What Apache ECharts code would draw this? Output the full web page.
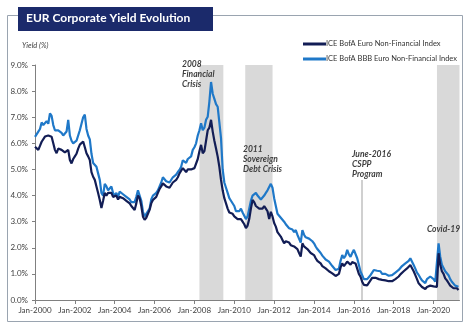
<!DOCTYPE html>
<html><head><meta charset="utf-8">
<script src="https://cdn.jsdelivr.net/npm/echarts@6/dist/echarts.min.js"></script>
<style>html,body{margin:0;padding:0;background:#fff}#c{width:474px;height:326px}</style>
</head><body><div id="c"></div>
<script>
const chartTitle = 'EUR Corporate Yield Evolution';
const yAxisTitle = 'Yield (%)';
const seriesNames = ['ICE BofA Euro Non-Financial Index', 'ICE BofA BBB Euro Non-Financial Index'];
const startYear = 2000; // monthly observations from Jan-2000
const indexYield = [
  5.87,5.80,5.75,5.90,6.06,6.10,6.26,6.20,6.30,6.33,6.25,6.00,
  5.75,5.62,5.80,5.85,5.75,5.70,5.65,5.70,5.75,5.36,5.23,5.40,
  5.50,5.60,5.80,5.95,6.00,6.07,5.85,5.62,5.50,5.36,4.90,4.72,
  4.60,4.35,4.10,3.83,3.52,3.80,4.10,4.00,4.10,4.05,4.10,3.95,
  3.90,4.00,3.85,3.95,4.00,3.90,3.95,3.80,3.75,3.70,3.60,3.55,
  3.45,3.70,4.00,3.90,3.60,3.19,3.07,3.15,3.20,3.45,3.70,3.83,
  3.80,3.95,4.10,4.25,4.35,4.47,4.45,4.35,4.40,4.30,4.35,4.50,
  4.55,4.60,4.70,4.85,4.95,5.05,5.00,4.90,5.00,4.95,5.00,5.05,
  5.05,5.10,5.40,5.70,5.94,5.62,5.70,6.10,6.50,6.60,6.90,6.45,
  6.10,5.80,5.49,5.10,4.60,4.20,3.90,3.70,3.50,3.35,3.30,3.30,
  3.20,3.15,3.10,3.05,3.10,3.00,2.90,2.75,2.85,3.10,3.50,3.83,
  3.75,3.60,3.55,3.50,3.45,3.50,3.60,3.50,3.40,3.10,3.38,3.20,
  2.95,2.81,2.60,2.55,2.43,2.30,2.17,2.25,2.30,2.20,2.10,2.10,
  2.05,2.10,1.95,1.80,1.66,2.17,2.05,2.00,1.95,1.90,1.80,1.75,
  1.72,1.60,1.50,1.45,1.40,1.30,1.25,1.21,1.15,1.10,1.05,1.02,
  1.00,0.92,0.89,1.00,1.25,1.40,1.30,1.35,1.47,1.40,1.35,1.45,
  1.47,1.40,1.20,1.00,0.89,0.70,0.58,0.54,0.56,0.60,0.75,0.85,
  0.89,0.85,0.87,0.80,0.82,0.77,0.80,0.75,0.74,0.72,0.70,0.72,
  0.77,0.80,0.85,0.90,0.98,1.05,1.10,1.15,1.21,1.25,1.34,1.30,
  1.10,0.95,0.80,0.64,0.58,0.50,0.45,0.42,0.50,0.55,0.55,0.57,
  0.52,0.45,0.50,1.79,1.35,1.10,1.00,0.83,0.75,0.65,0.55,0.51,
  0.45,0.40,0.45,0.38
];
const bbbYield = [
  6.25,6.30,6.45,6.55,6.80,6.70,6.65,6.85,6.75,7.15,7.05,6.70,
  6.50,6.45,6.50,6.45,6.40,6.30,6.35,6.45,6.90,6.30,6.10,6.00,
  6.05,6.10,6.30,6.50,6.75,7.00,7.10,6.55,6.30,6.15,5.60,5.25,
  5.20,5.10,4.85,4.60,4.10,4.00,4.45,4.35,4.20,4.25,4.35,4.10,
  4.00,4.10,3.95,4.15,4.20,4.05,4.10,3.95,3.90,3.85,3.75,3.70,
  3.75,3.95,4.20,4.15,3.80,3.38,3.20,3.30,3.25,3.50,3.85,4.00,
  3.95,4.10,4.20,4.35,4.50,4.70,4.65,4.55,4.60,4.50,4.55,4.70,
  4.75,4.80,4.90,4.98,5.10,5.35,5.30,5.25,5.40,5.35,5.50,5.75,
  5.85,6.00,6.30,6.50,6.77,6.50,6.60,6.90,7.02,7.60,8.35,7.90,
  7.70,7.50,7.40,6.80,6.20,5.00,4.50,4.30,4.10,3.90,3.80,3.75,
  3.60,3.40,3.45,3.40,3.50,3.35,3.30,3.10,3.20,3.50,3.80,4.00,
  4.00,4.10,4.00,3.95,3.85,3.90,4.00,4.10,4.20,4.15,4.45,4.30,
  3.90,3.60,3.30,3.35,3.15,3.10,3.00,2.90,2.85,2.75,2.70,2.70,
  2.60,2.68,2.50,2.45,2.20,2.68,2.50,2.40,2.45,2.35,2.30,2.25,
  2.17,2.05,1.95,1.90,1.80,1.70,1.66,1.55,1.50,1.47,1.40,1.30,
  1.28,1.15,1.09,1.20,1.50,1.72,1.60,1.70,1.92,1.75,1.65,1.80,
  1.92,1.85,1.60,1.35,1.09,0.95,0.80,0.77,0.80,0.82,0.95,1.05,
  1.15,1.10,1.12,1.05,1.10,1.00,1.05,1.00,0.98,0.93,0.89,0.95,
  1.02,1.05,1.10,1.15,1.21,1.30,1.35,1.40,1.45,1.50,1.60,1.55,
  1.34,1.20,1.05,0.96,0.85,0.75,0.70,0.65,0.80,0.85,0.90,0.96,
  0.80,0.70,0.75,2.17,1.66,1.35,1.28,1.10,1.09,0.95,0.80,0.70,
  0.65,0.55,0.60,0.51
];
const crisisBands = [[2008.25, 2009.45], [2010.55, 2011.92], [2020.17, 2021.3]];
const csppDate = 2016.42, csppTop = 4.6;
const xMin = 2000, xMax = 2021.3, xStep = 2;
const yMin = 0, yMax = 9, yStep = 1, bandTop = 9.2;
const annotations = [
  {text: '2008\nFinancial\nCrisis', x: 182, y: 59},
  {text: '2011\nSovereign\nDebt Crisis', x: 243, y: 144},
  {text: 'June-2016\nCSPP\nProgram', x: 352, y: 149},
  {text: 'Covid-19', x: 427, y: 224}
];

const toPairs = arr => arr.map((v, i) => [startYear + i / 12, v]);
const FONT = 'Lato';
const chart = echarts.init(document.getElementById('c'), null, {renderer: 'canvas'});
chart.setOption({
  animation: false,
  textStyle: {fontFamily: FONT},
  grid: {left: 35, right: 14.5, top: 65, bottom: 26},
  legend: {
    orient: 'vertical', left: 298, top: 34, itemGap: 5,
    itemWidth: 23, itemHeight: 3, icon: 'rect',
    textStyle: {fontFamily: FONT, fontSize: 7.5, color: '#333', lineHeight: 10, padding: [0, 0, 0, -5]},
    data: seriesNames
  },
  xAxis: {
    type: 'value', min: xMin, max: xMax, interval: xStep,
    splitLine: {show: false},
    axisLine: {lineStyle: {color: '#808080', width: 1}},
    axisTick: {show: true, length: 4, lineStyle: {color: '#808080'}},
    axisLabel: {fontFamily: FONT, fontSize: 8, color: '#404040', margin: 6,
      formatter: v => (Math.abs(v - Math.round(v)) < 1e-6 && v <= 2020) ? 'Jan-' + Math.round(v) : '',
      showMaxLabel: false}
  },
  yAxis: {
    type: 'value', min: yMin, max: yMax, interval: yStep,
    splitLine: {show: false},
    axisLine: {show: true, lineStyle: {color: '#808080', width: 1}},
    axisTick: {show: true, length: 3, lineStyle: {color: '#808080'}},
    axisLabel: {fontFamily: FONT, fontSize: 8, color: '#404040', margin: 7,
      formatter: v => v.toFixed(1) + '%'}
  },
  series: [
    {
      name: seriesNames[0], type: 'line', data: toPairs(indexYield),
      showSymbol: false, z: 3,
      lineStyle: {color: '#121d55', width: 2.2}, itemStyle: {color: '#121d55'},
      markArea: {
        silent: true, z: 1,
        itemStyle: {color: '#d9d9d9'},
        data: crisisBands.map(b => [{coord: [b[0], yMin]}, {coord: [b[1], bandTop]}])
      },
      markLine: {
        silent: true, z: 1, symbol: ['none', 'none'],
        label: {show: false},
        lineStyle: {color: '#c0c0c0', width: 1.5, type: 'solid'},
        data: [[{coord: [csppDate, yMin]}, {coord: [csppDate, csppTop]}]]
      }
    },
    {
      name: seriesNames[1], type: 'line', data: toPairs(bbbYield),
      showSymbol: false, z: 2,
      lineStyle: {color: '#1f78c8', width: 2.2}, itemStyle: {color: '#1f78c8'}
    }
  ],
  graphic: [
    {type: 'rect', z: 0, shape: {x: 7.5, y: 15.5, width: 455, height: 306},
      style: {fill: 'none', stroke: '#9aa4b0', lineWidth: 1}},
    {type: 'rect', z: 10, shape: {x: 18, y: 7, width: 195, height: 24},
      style: {fill: '#1b2a6b'}},
    {type: 'text', z: 11, left: 26, top: 12,
      style: {text: chartTitle, fill: '#fff', font: 'bold 12px ' + FONT}},
    {type: 'text', z: 11, left: 22, top: 42,
      style: {text: yAxisTitle, fill: '#404040', font: 'italic 7.5px ' + FONT}}
  ].concat(annotations.map(a => ({
    type: 'text', z: 11, left: a.x, top: a.y,
    style: {text: a.text, fill: '#404040', font: 'italic bold 8.5px ' + FONT, lineHeight: 10}
  })))
});
</script></body></html>
